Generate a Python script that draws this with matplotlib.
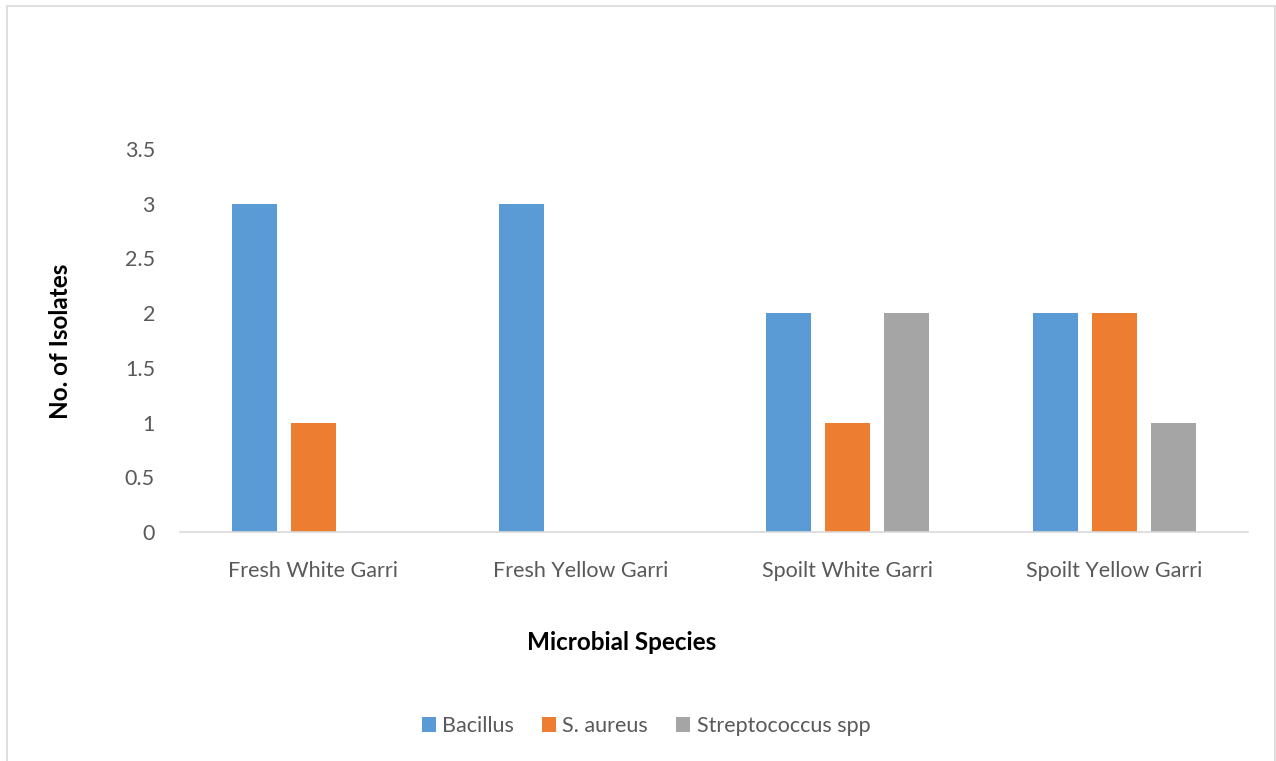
import numpy as np
import matplotlib
matplotlib.use("Agg")
import matplotlib.pyplot as plt
from matplotlib.patches import Rectangle

plt.rcParams['font.family'] = ['Lato', 'DejaVu Sans']

categories = ["Fresh White Garri", "Fresh Yellow Garri", "Spoilt White Garri", "Spoilt Yellow Garri"]
series_names = ["Bacillus", "S. aureus", "Streptococcus spp"]
bacillus = [3, 3, 2, 2]
s_aureus = [1, 0, 1, 2]
strepto = [0, 0, 2, 1]
colors = ["#5B9BD5", "#ED7D31", "#A5A5A5"]
yticks = [0, 0.5, 1, 1.5, 2, 2.5, 3, 3.5]

W, H = 1276, 761
fig = plt.figure(figsize=(W / 100, H / 100), dpi=100)
fig.patches.append(Rectangle((6.5 / W, -0.01), (1275 - 6.5) / W, 1 - 5.5 / H + 0.01,
                             transform=fig.transFigure, fill=False,
                             edgecolor="#D9D9D9", linewidth=1.2))

ax = fig.add_axes([180 / W, 1 - 532 / H, (1248 - 180) / W, (532 - 149) / H])

x = np.arange(len(categories))
bw = 0.172
step = 0.221
for i, (vals, name) in enumerate(zip([bacillus, s_aureus, strepto], series_names)):
    ax.bar(x + (i - 1) * step, vals, width=bw, color=colors[i], label=name, zorder=2)

ax.set_xlim(-0.5, len(categories) - 0.5)
ax.set_ylim(0, 3.5)
ax.set_yticks(yticks)
ax.set_yticklabels([f"{t:g}" for t in yticks])
ax.set_xticks(x)
ax.set_xticklabels(categories)

for s in ["top", "right", "left"]:
    ax.spines[s].set_visible(False)
ax.spines["bottom"].set_color("#D9D9D9")
ax.spines["bottom"].set_linewidth(1.2)
ax.tick_params(axis="both", length=0, labelsize=15.5, labelcolor="#595959")
ax.tick_params(axis="y", pad=18)
ax.tick_params(axis="x", pad=21)

fig.text(60 / W, 1 - 341 / H, "No. of Isolates", rotation=90, ha="center", va="center",
         fontsize=17.5, fontweight="bold", color="black")
fig.text(622 / W, 1 - 642 / H, "Microbial Species", ha="center", va="center",
         fontsize=17.5, fontweight="bold", color="black")

fig.legend(loc="center", bbox_to_anchor=(646 / W, 1 - 726 / H), ncol=3, frameon=False,
           fontsize=15.5, handlelength=0.65, handleheight=0.65, handletextpad=0.3,
           columnspacing=1.3, labelcolor="#595959")

fig.savefig("out.png", dpi=100)
